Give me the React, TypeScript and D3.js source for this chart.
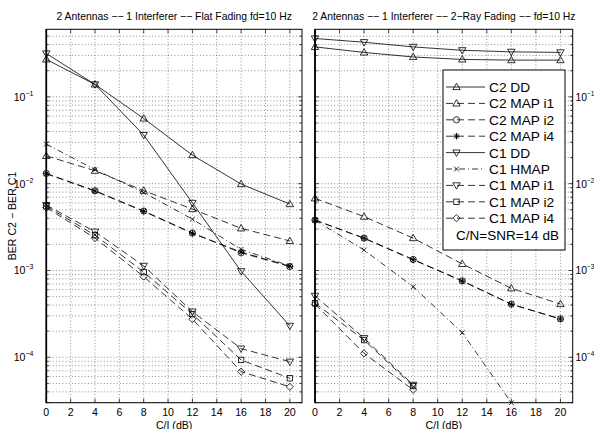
import * as d3 from 'd3';
import React from 'react';

// C/I (dB) at which each curve was evaluated
const xValues = [0, 4, 8, 12, 16, 20];
const xTicks = [0, 2, 4, 6, 8, 10, 12, 14, 16, 18, 20];
const yTicks = [1e-1, 1e-2, 1e-3, 1e-4];
const yTickExponents = ['\u22121', '\u22122', '\u22123', '\u22124'];

// Flat fading panel
const flatC2DD = [0.27, 0.139, 0.0564, 0.0213, 0.0099, 0.00582];
const flatC2MapI1 = [0.0209, 0.0141, 0.0083, 0.0051, 0.00306, 0.00219];
const flatC2MapI2 = [0.0131, 0.0083, 0.00484, 0.0027, 0.0016, 0.00111];
const flatC2MapI4 = [0.013, 0.0082, 0.0048, 0.00268, 0.00163, 0.00112];
const flatC1DD = [0.316, 0.139, 0.0363, 0.006, 0.00098, 0.00023];
const flatC1Hmap = [0.0286, 0.0145, 0.0079, 0.0039, 0.00175, 0.00113];
const flatC1MapI1 = [0.00567, 0.0028, 0.00113, 0.000336, 0.000126, 0.000089];
const flatC1MapI2 = [0.0055, 0.00255, 0.00096, 0.000315, 0.0000932, 0.0000574];
const flatC1MapI4 = [0.0053, 0.00236, 0.00085, 0.000275, 0.0000684, 0.0000457];

// 2-ray fading panel
const rayC2DD = [0.376, 0.325, 0.288, 0.27, 0.265, 0.265];
const rayC2MapI1 = [0.00678, 0.00417, 0.00236, 0.00119, 0.000623, 0.000411];
const rayC2MapI2 = [0.00381, 0.00236, 0.00134, 0.00076, 0.00041, 0.000277];
const rayC2MapI4 = [0.0038, 0.00235, 0.00133, 0.000755, 0.000408, 0.000276];
const rayC1DD = [0.47, 0.426, 0.376, 0.344, 0.33, 0.325];
const rayC1Hmap = [0.0038, 0.00172, 0.00065, 0.000192, 0.00003];
const rayC1MapI1 = [0.00051, 0.000166, 0.0000481];
const rayC1MapI2 = [0.00042, 0.000158, 0.0000466];
const rayC1MapI4 = [0.00041, 0.000111, 0.0000422];

const seriesNames = ['C2 DD', 'C2 MAP i1', 'C2 MAP i2', 'C2 MAP i4', 'C1 DD', 'C1 HMAP', 'C1 MAP i1', 'C1 MAP i2', 'C1 MAP i4'];
const seriesDash = ['', '7,4', '7,4', '7,4', '', '6,3,1,3', '7,4', '7,4', '7,4'];
const seriesMarker = ['up', 'up', 'circle', 'star', 'down', 'x', 'down', 'square', 'diamond'];

const flatSeries = [flatC2DD, flatC2MapI1, flatC2MapI2, flatC2MapI4, flatC1DD, flatC1Hmap, flatC1MapI1, flatC1MapI2, flatC1MapI4];
const raySeries = [rayC2DD, rayC2MapI1, rayC2MapI2, rayC2MapI4, rayC1DD, rayC1Hmap, rayC1MapI1, rayC1MapI2, rayC1MapI4];

const font = '"Liberation Sans", Arial, Helvetica, sans-serif';
const W = 594;
const H = 429;
const top = 29.3;
const bottom = 402.7;

const y = d3.scaleLog().domain([3e-5, 0.6]).range([bottom, top]);

// minor ticks for the log axis
const minorY: number[] = [];
for (let e = -5; e <= -1; e++) {
    for (let k = 2; k <= 9; k++) {
        const v = k * Math.pow(10, e);
        if (v > 3e-5 && v < 0.6) minorY.push(v);
    }
}

function Marker({ kind, cx, cy }: { kind: string; cx: number; cy: number }) {
    const p = { fill: 'none', stroke: '#000', strokeWidth: 0.8 };
    if (kind === 'up') return <path d={`M${cx},${cy - 3.8}L${cx + 3.7},${cy + 2.6}L${cx - 3.7},${cy + 2.6}Z`} {...p} />;
    if (kind === 'down') return <path d={`M${cx},${cy + 3.8}L${cx + 3.7},${cy - 2.6}L${cx - 3.7},${cy - 2.6}Z`} {...p} />;
    if (kind === 'circle') return <circle cx={cx} cy={cy} r={3.1} {...p} />;
    if (kind === 'square') return <rect x={cx - 2.7} y={cy - 2.7} width={5.4} height={5.4} {...p} />;
    if (kind === 'diamond') return <path d={`M${cx},${cy - 3.6}L${cx + 3.6},${cy}L${cx},${cy + 3.6}L${cx - 3.6},${cy}Z`} {...p} />;
    if (kind === 'x') return <path d={`M${cx - 2.4},${cy - 2.4}L${cx + 2.4},${cy + 2.4}M${cx - 2.4},${cy + 2.4}L${cx + 2.4},${cy - 2.4}`} {...p} />;
    // asterisk
    const s = 3.2, d = 2.3;
    return <path d={`M${cx - s},${cy}L${cx + s},${cy}M${cx},${cy - s}L${cx},${cy + s}M${cx - d},${cy - d}L${cx + d},${cy + d}M${cx - d},${cy + d}L${cx + d},${cy - d}`} {...p} strokeWidth={1} />;
}

function Panel({ id, x0, x1, title, series, labelSide }: { id: string; x0: number; x1: number; title: string; series: number[][]; labelSide: 'left' | 'right' }) {
    const x = d3.scaleLinear().domain([0, 21]).range([x0, x1]);
    const line = d3.line<number>().x((_, i) => x(xValues[i])).y((d) => y(d));
    const grid = { stroke: '#444', strokeWidth: 0.6, strokeDasharray: '1,2.2' };
    const tk = { stroke: '#000', strokeWidth: 0.7 };
    return (
        <g>
            <clipPath id={id}><rect x={x0} y={top} width={x1 - x0} height={bottom - top} /></clipPath>
            {/* grid */}
            {xTicks.filter((t) => t > 0).map((t) => <line key={'gx' + t} x1={x(t)} x2={x(t)} y1={top} y2={bottom} {...grid} />)}
            {[...yTicks, ...minorY].map((v) => <line key={'gy' + v} x1={x0} x2={x1} y1={y(v)} y2={y(v)} {...grid} />)}
            {/* ticks */}
            {xTicks.map((t) => (
                <g key={'tx' + t}>
                    <line x1={x(t)} x2={x(t)} y1={bottom} y2={bottom - 4} {...tk} />
                    <line x1={x(t)} x2={x(t)} y1={top} y2={top + 4} {...tk} />
                    <text x={x(t)} y={416} textAnchor="middle" fontSize={10.6} fontFamily={font}>{t}</text>
                </g>
            ))}
            {yTicks.map((v) => (
                <g key={'ty' + v}>
                    <line x1={x0} x2={x0 + 4} y1={y(v)} y2={y(v)} {...tk} />
                    <line x1={x1} x2={x1 - 4} y1={y(v)} y2={y(v)} {...tk} />
                </g>
            ))}
            {minorY.map((v) => (
                <g key={'my' + v}>
                    <line x1={x0} x2={x0 + 2.5} y1={y(v)} y2={y(v)} {...tk} />
                    <line x1={x1} x2={x1 - 2.5} y1={y(v)} y2={y(v)} {...tk} />
                </g>
            ))}
            {yTicks.map((v, i) => (
                labelSide === 'left' ? (
                    <text key={'ly' + v} x={33.5} y={y(v) + 4} textAnchor="end" fontSize={10.6} fontFamily={font}>
                        10<tspan dy={-5} fontSize={7}>{yTickExponents[i]}</tspan>
                    </text>
                ) : (
                    <text key={'ly' + v} x={x1 + 2.8} y={y(v) + 4} fontSize={10.4} fontFamily={font}>
                        10<tspan dy={-5} fontSize={6.4}>{yTickExponents[i]}</tspan>
                    </text>
                )
            ))}
            {/* curves */}
            <g clipPath={`url(#${id})`}>
                {series.map((s, i) => (
                    <path key={'s' + i} d={line(s) || ''} fill="none" stroke="#000" strokeWidth={0.8} strokeDasharray={seriesDash[i] || undefined} />
                ))}
            </g>
            {series.map((s, i) => s.map((v, j) => <Marker key={'m' + i + '-' + j} kind={seriesMarker[i]} cx={x(xValues[j])} cy={y(v)} />))}
            <rect x={x0} y={top} width={x1 - x0} height={bottom - top} fill="none" stroke="#000" strokeWidth={1} />
            <line x1={x0} x2={x0} y1={top} y2={bottom} stroke="#000" strokeWidth={1.7} />
            <text x={(x0 + x1) / 2} y={20} textAnchor="middle" fontSize={10.4} fontFamily={font}>{title}</text>
            <text x={(x0 + x1) / 2} y={428.5} textAnchor="middle" fontSize={10.6} fontFamily={font}>C/I (dB)</text>
        </g>
    );
}

function Legend() {
    const lx = 443, ly = 70, lw = 122, lh = 180;
    return (
        <g>
            <rect x={lx} y={ly} width={lw} height={lh} fill="#fff" stroke="#000" strokeWidth={1} />
            {seriesNames.map((n, i) => {
                const cy = 87 + i * 16.4;
                return (
                    <g key={n}>
                        <line x1={446} x2={485} y1={cy} y2={cy} stroke="#000" strokeWidth={0.8} strokeDasharray={seriesDash[i] || undefined} />
                        <Marker kind={seriesMarker[i]} cx={456.5} cy={cy} />
                        <text x={489} y={cy + 5} fontSize={13.7} fontFamily={font}>{n}</text>
                    </g>
                );
            })}
            <text x={507.5} y={87 + 9 * 16.4 + 5} textAnchor="middle" fontSize={13.5} fontFamily={font}>C/N=SNR=14 dB</text>
        </g>
    );
}

export default function App() {
    return (
        <svg width={W} height={H} style={{ position: 'absolute', left: 0, top: 0, background: '#fff' }}>
            <rect width={W} height={H} fill="#fff" />
            <Panel id="clipFlat" x0={46.3} x1={302} title={'2 Antennas \u2212\u2212 1 Interferer \u2212\u2212 Flat Fading fd=10 Hz'} series={flatSeries} labelSide="left" />
            <Panel id="clipRay" x0={315} x1={572.7} title={'2 Antennas \u2212\u2212 1 Interferer \u2212\u2212 2\u2212Ray Fading \u2212\u2212 fd=10 Hz'} series={raySeries} labelSide="right" />
            <Legend />
            <text transform={`translate(15.5,${(top + bottom) / 2}) rotate(-90)`} textAnchor="middle" fontSize={10.6} fontFamily={font}>BER C2 {'\u2212'} BER C1</text>
        </svg>
    );
}
